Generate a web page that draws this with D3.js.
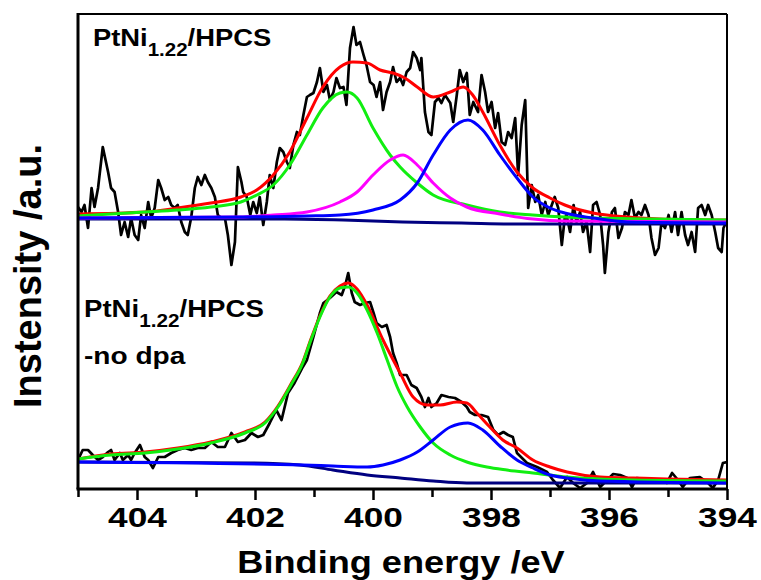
<!DOCTYPE html>
<html>
<head>
<meta charset="utf-8">
<script src="https://cdn.jsdelivr.net/npm/d3@7"></script>
<style>
  body { margin: 0; background: #fff; }
  svg { display: block; font-family: "Liberation Sans", Arial, sans-serif; font-weight: bold; }
</style>
</head>
<body>
<div id="chart"></div>
<script>
// eje x: binding energy (eV), eje y: intensidad (a.u., con offset entre espectros)
const majorTicks = [404, 402, 400, 398, 396, 394]
const minorTicks = [405, 403, 401, 399, 397, 395]

// espectro de arriba: PtNi1.22/HPCS
const topRaw = [[405.00,282],[404.94,277],[404.89,284],[404.83,261],[404.77,301],[404.72,282],[404.66,301],[404.58,342],[404.49,317],[404.44,301],[404.38,297],[404.32,277],[404.27,254],[404.21,267],[404.15,252],[404.10,271],[404.04,254],[403.98,249],[403.93,274],[403.87,261],[403.81,287],[403.76,271],[403.70,281],[403.64,309],[403.59,301],[403.53,289],[403.47,292],[403.42,284],[403.36,281],[403.31,284],[403.25,267],[403.19,257],[403.14,254],[403.08,272],[403.02,301],[402.97,312],[402.91,304],[402.85,314],[402.80,307],[402.74,301],[402.68,292],[402.63,274],[402.57,271],[402.51,271],[402.46,254],[402.40,224],[402.34,247],[402.29,322],[402.23,307],
  [402.20,297],[402.14,292],[402.08,274],[402.03,287],[401.97,276],[401.92,292],[401.86,264],[401.80,287],[401.75,314],[401.69,301],[401.63,327],[401.58,341],[401.52,337],[401.46,327],[401.41,321],[401.35,344],[401.29,357],[401.24,354],[401.18,374],[401.12,392],[401.07,394],[401.01,396],[400.95,407],[400.90,421],[400.84,397],[400.78,404],[400.73,389],[400.67,397],[400.62,411],[400.56,401],[400.50,402],[400.45,384],[400.39,441],[400.33,462],[400.28,444],[400.22,447],[400.16,434],[400.11,424],[400.05,407],[399.99,404],[399.94,392],[399.88,407],[399.83,379],[399.77,397],[399.71,407],[399.66,422],[399.60,407],[399.54,411],[399.49,404],
  [399.43,417],[399.37,421],[399.32,437],[399.26,431],[399.20,419],[399.18,431],[399.12,377],[399.06,357],[399.01,354],[398.95,387],[398.89,391],[398.84,386],[398.78,394],[398.69,386],[398.64,367],[398.58,394],[398.53,419],[398.47,407],[398.41,416],[398.36,374],[398.30,387],[398.22,377],[398.16,414],[398.10,397],[398.05,377],[397.99,387],[397.93,361],[397.88,376],[397.82,347],[397.76,344],[397.71,357],[397.65,351],[397.59,371],[397.54,314],[397.48,364],[397.42,389],[397.37,281],[397.31,304],[397.25,287],[397.20,294],[397.14,274],[397.08,287],[397.03,274],[396.97,284],[396.92,292],[396.86,281],[396.80,244],[396.75,271],
  [396.72,274],[396.66,257],[396.60,284],[396.55,267],[396.49,277],[396.44,257],[396.38,267],[396.32,237],[396.27,284],[396.21,287],[396.15,274],[396.10,244],[396.07,216],[396.01,257],[395.95,277],[395.90,281],[395.84,251],[395.78,261],[395.73,277],[395.67,274],[395.62,289],[395.56,271],[395.50,277],[395.45,274],[395.39,284],[395.33,274],[395.28,251],[395.22,234],[395.16,241],[395.11,267],[395.05,261],[394.99,274],[394.94,257],[394.88,277],[394.83,254],[394.77,277],[394.71,254],[394.66,244],[394.60,257],[394.54,237],[394.49,281],[394.43,284],[394.37,274],[394.32,284],[394.26,274],[394.20,257],[394.15,241],[394.09,237],[394.06,261],[394.01,267]]
const topBackground = [[405,270],[401.5,270],[400.5,269],[399.5,267],[398.5,266],[397.5,265],[394,265]]
const topPeak400 = [[405.00,273],[404.44,275],[403.86,277],[403.31,279],[402.75,282],[402.24,287],[401.97,294],[401.69,304],[401.41,324],[401.12,354],[400.85,381],[400.56,396],[400.44,397],[400.27,391],[400.00,361],[399.71,334],[399.54,322],[399.25,306],[398.98,294],[398.41,284],[397.85,277],[397.29,274],[396.75,272],[395.31,270],[394.00,269]]
const topPeak399 = [[405,271],[402.25,272],[401.69,274],[401.12,277],[400.56,287],[400.27,297],[400.00,314],[399.71,329],[399.49,334],[399.25,324],[398.98,306],[398.69,291],[398.41,282],[397.85,275],[397.29,270],[396.75,268],[394,267]]
const topPeak398 = [[405,271],[402.25,272],[401.12,273],[400.56,274],[400.00,279],[399.54,289],[399.25,306],[398.98,334],[398.69,359],[398.39,369],[398.14,359],[397.85,334],[397.56,311],[397.29,292],[397.00,281],[396.75,276],[396.27,271],[395.69,267],[394,266]]
const topEnvelope = [[405,275],[403.86,277],[403.31,281],[402.75,286],[402.24,292],[401.97,299],[401.69,314],[401.41,337],[401.12,371],[400.85,402],[400.56,422],[400.34,427],[400.10,426],[399.88,419],[399.66,416],[399.46,411],[399.25,402],[398.98,392],[398.69,397],[398.47,402],[398.31,394],[398.14,377],[397.85,344],[397.56,317],[397.29,301],[397.00,291],[396.75,284],[396.27,276],[395.69,272],[395.14,270],[394,269]]

// espectro de abajo: PtNi1.22/HPCS -no dpa
const bottomRaw = [[405.00,29],[404.92,39],[404.83,39],[404.75,34],[404.66,29],[404.58,32],[404.49,37],[404.44,39],[404.38,29],[404.29,36],[404.24,29],[404.15,34],[404.10,29],[404.04,36],[403.95,44],[403.87,32],[403.81,29],[403.73,21],[403.64,32],[403.53,32],[403.42,36],[403.31,39],[403.19,41],[403.08,39],[402.97,41],[402.85,41],[402.74,47],[402.63,42],[402.51,42],[402.40,56],[402.29,47],[402.17,49],[402.06,56],[401.95,52],[401.86,54],[401.75,66],[401.64,79],[401.55,69],[401.44,96],[401.33,106],[401.19,122],
  [401.12,129],[401.01,152],[400.90,176],[400.84,186],[400.73,191],[400.62,197],[400.53,194],[400.47,204],[400.42,216],[400.36,196],[400.31,187],[400.22,184],[400.14,186],[400.05,187],[399.99,176],[399.94,166],[399.85,162],[399.77,164],[399.71,152],[399.66,136],[399.60,126],[399.54,114],[399.43,114],[399.35,104],[399.26,101],[399.18,92],[399.12,82],[399.06,91],[399.01,82],[398.92,86],[398.84,94],[398.72,92],[398.61,91],[398.50,87],[398.41,82],[398.36,77],[398.27,74],[398.16,74],[398.05,72],[397.96,59],[397.88,54],[397.79,57],[397.71,54],
  [397.63,52],[397.56,36],[397.39,26],[397.22,22],[397.05,17],[396.95,9],[396.83,1],[396.71,12],[396.61,6],[396.49,1],[396.37,6],[396.27,17],[396.15,2],[396.03,9],[395.93,15],[395.81,14],[395.69,11],[395.61,2],[395.53,11],[395.36,10],[395.19,9],[395.02,6],[394.93,16],[394.83,9],[394.75,2],[394.63,11],[394.46,12],[394.32,6],[394.24,1],[394.15,9],[394.07,26],[394.00,27]]
const bottomBackground = [[405,27],[402.08,26],[401.24,24],[400.68,19],[400.10,14],[399.54,11],[398.98,8],[398.41,6],[394,6]]
const bottomPeak400 = [[405.00,30],[404.44,34],[403.86,36],[403.31,40],[402.75,46],[402.17,56],[401.83,66],[401.61,82],[401.39,104],[401.19,126],[401.07,146],[400.90,172],[400.73,192],[400.56,201],[400.42,202],[400.27,196],[400.10,179],[399.93,156],[399.76,129],[399.59,102],[399.42,82],[399.20,62],[398.98,46],[398.69,34],[398.41,27],[398.07,22],[397.73,19],[397.29,16],[396.71,12],[395.59,9],[394.00,8]]
const bottomPeak398 = [[405,27],[401.19,24],[400.68,23],[400.10,22],[399.83,24],[399.54,29],[399.25,37],[398.98,49],[398.69,62],[398.39,66],[398.14,59],[397.85,43],[397.56,29],[397.29,21],[397.00,14],[396.71,11],[396.15,8],[394,6]]
const bottomEnvelope = [[405,30],[404.44,35],[403.86,37],[403.31,41],[402.75,47],[402.17,57],[401.83,67],[401.61,83],[401.39,105],[401.19,127],[401.07,147],[400.90,173],[400.73,193],[400.56,203],[400.42,206],[400.27,200],[400.10,184],[399.83,149],[399.54,116],[399.32,92],[399.08,84],[398.86,84],[398.58,87],[398.41,86],[398.24,76],[398.02,62],[397.80,49],[397.56,41],[397.29,29],[397.00,22],[396.71,17],[396.15,12],[395.59,11],[395.02,10],[394,9]]

const width = 761, height = 580
const margin = { top: 14, right: 34, bottom: 91, left: 78 }
const innerWidth = width - margin.left - margin.right
const innerHeight = height - margin.top - margin.bottom

const svg = d3.select("#chart")
  .append("svg")
  .attr("width", width)
  .attr("height", height)
  .attr("viewBox", [0, 0, width, height])

const g = svg.append("g")
  .attr("transform", `translate(${margin.left},${margin.top})`)

const x = d3.scaleLinear().domain([405, 394]).range([0, innerWidth])
const y = d3.scaleLinear().domain([0, innerHeight]).range([innerHeight, 0])

g.append("clipPath").attr("id", "plot-clip")
  .append("rect").attr("width", innerWidth).attr("height", innerHeight)

const plot = g.append("g").attr("clip-path", "url(#plot-clip)")

const rawLine = d3.line().x(d => x(d[0])).y(d => y(d[1]))
const fitLine = d3.line().x(d => x(d[0])).y(d => y(d[1])).curve(d3.curveMonotoneX)

// espectros medidos (negro)
;[topRaw, bottomRaw].forEach(data => {
  plot.append("path")
    .datum(data)
    .attr("fill", "none")
    .attr("stroke", "#000")
    .attr("stroke-width", 2.7)
    .attr("stroke-linejoin", "round")
    .attr("d", rawLine)
})

// ajustes: envolvente, fondo y componentes
const fits = [
  { data: topEnvelope, color: "#ff0000" },
  { data: bottomEnvelope, color: "#ff0000" },
  { data: topBackground, color: "#000080" },
  { data: bottomBackground, color: "#000080" },
  { data: topPeak400, color: "#11ee11" },
  { data: bottomPeak400, color: "#11ee11" },
  { data: topPeak399, color: "#ff00ff" },
  { data: topPeak398, color: "#0000ff" },
  { data: bottomPeak398, color: "#0000ff" }
]
fits.forEach(f => {
  plot.append("path")
    .datum(f.data)
    .attr("fill", "none")
    .attr("stroke", f.color)
    .attr("stroke-width", 3)
    .attr("d", fitLine)
})

// marco
g.append("line").attr("x1", 0).attr("x2", innerWidth).attr("y1", 0).attr("y2", 0)
  .attr("stroke", "#000").attr("stroke-width", 2)
g.append("line").attr("x1", innerWidth).attr("x2", innerWidth).attr("y1", 0).attr("y2", innerHeight)
  .attr("stroke", "#000").attr("stroke-width", 2)
g.append("line").attr("x1", 0).attr("x2", 0).attr("y1", -1).attr("y2", innerHeight)
  .attr("stroke", "#000").attr("stroke-width", 3)

// eje x
const xAxis = g.append("g")
  .attr("transform", `translate(0,${innerHeight})`)
  .call(d3.axisBottom(x).tickValues(majorTicks).tickSize(11).tickPadding(0).tickFormat(d3.format("d")))
xAxis.select(".domain").attr("stroke-width", 3).attr("d", `M-1.5,0H${innerWidth + 1}`)
xAxis.selectAll(".tick line").attr("stroke-width", 2.5)
xAxis.selectAll(".tick text")
  .attr("y", 0).attr("dy", 0)
  .attr("transform", "translate(0,38) scale(1.26,1)")
  .attr("fill", "#000")
  .attr("font-size", 28)
  .attr("font-family", '"Liberation Sans", Arial, sans-serif')
  .attr("font-weight", "bold")

const xMinor = g.append("g")
  .attr("transform", `translate(0,${innerHeight})`)
  .call(d3.axisBottom(x).tickValues(minorTicks).tickSize(8).tickFormat(""))
xMinor.select(".domain").remove()
xMinor.selectAll(".tick line").attr("stroke-width", 2.5)

// títulos de ejes
svg.append("text")
  .attr("transform", "translate(401,573) scale(1.13,1)")
  .attr("text-anchor", "middle")
  .attr("font-size", 32)
  .text("Binding energy /eV")

svg.append("text")
  .attr("transform", "translate(41,276) rotate(-90)")
  .attr("text-anchor", "middle")
  .attr("font-size", 38)
  .text("Instensity /a.u.")

// etiquetas de los espectros
function sampleLabel(px, py, sx) {
  const t = svg.append("text")
    .attr("transform", `translate(${px},${py}) scale(${sx},1)`)
    .attr("font-size", 24)
  t.append("tspan").text("PtNi")
  t.append("tspan").attr("font-size", 18).attr("dy", 10).text("1.22")
  t.append("tspan").attr("dy", -10).text("/HPCS")
  return t
}
sampleLabel(93, 46, 1.14)
sampleLabel(84, 317, 1.15)
svg.append("text")
  .attr("transform", "translate(84,364) scale(1.17,1)")
  .attr("font-size", 24)
  .text("-no dpa")
</script>
</body>
</html>
